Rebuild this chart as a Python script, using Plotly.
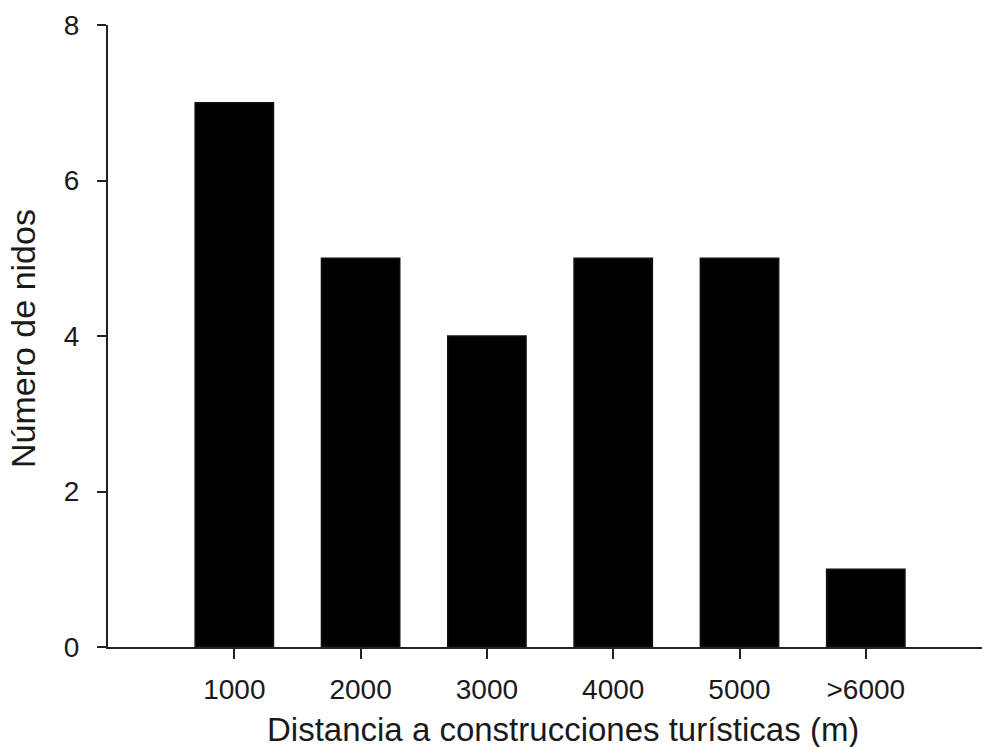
import plotly.graph_objects as go

categories = ["1000", "2000", "3000", "4000", "5000", ">6000"]
nests = [7, 5, 4, 5, 5, 1]
y_ticks = [0, 2, 4, 6, 8]
x_title = "Distancia a construcciones turísticas (m)"
y_title = "Número de nidos"

FONT = "Liberation Sans, Arial, sans-serif"
W, H = 982, 747
L, R, T, B = 108, 0, 25, 100

fig = go.Figure(
    go.Bar(
        x=list(range(len(categories))),
        y=nests,
        width=0.62,
        marker=dict(color="#000000", line=dict(color="#111111", width=1.5)),
    )
)

fig.update_layout(
    width=W,
    height=H,
    margin=dict(l=L, r=R, t=T, b=B, autoexpand=False),
    paper_bgcolor="white",
    plot_bgcolor="white",
    showlegend=False,
    font=dict(family=FONT, size=28, color="#1a1a1a"),
)

fig.update_xaxes(
    range=[-1, 5.92],
    automargin=False,
    tickmode="array",
    tickvals=list(range(len(categories))),
    ticktext=categories,
    ticks="outside",
    ticklen=10,
    tickwidth=2,
    tickcolor="#222222",
    showline=True,
    linecolor="#222222",
    linewidth=2,
    showgrid=False,
    zeroline=False,
    tickfont=dict(size=28),
    ticklabelstandoff=6,
)

fig.update_yaxes(
    range=[0, 8],
    automargin=False,
    tickmode="array",
    tickvals=y_ticks,
    ticks="outside",
    ticklen=9,
    tickwidth=2,
    tickcolor="#222222",
    showline=True,
    linecolor="#222222",
    linewidth=2,
    showgrid=False,
    zeroline=False,
    tickfont=dict(size=28),
    ticklabelstandoff=12,
)

plot_w = W - L - R
plot_h = H - T - B
fig.add_annotation(
    text=x_title, xref="paper", yref="paper",
    x=(563 - L) / plot_w, y=(H - B - 729) / plot_h,
    xanchor="center", yanchor="middle", showarrow=False,
    font=dict(size=33, family=FONT, color="#1a1a1a"),
)
fig.add_annotation(
    text=y_title, xref="paper", yref="paper",
    x=(23 - L) / plot_w, y=(H - B - 339) / plot_h,
    xanchor="center", yanchor="middle", textangle=-90, showarrow=False,
    font=dict(size=34, family=FONT, color="#1a1a1a"),
)

fig.write_html(
    "out.html",
    config={"displayModeBar": False},
    post_script="document.body.style.margin='0';document.body.style.overflow='hidden';",
)
